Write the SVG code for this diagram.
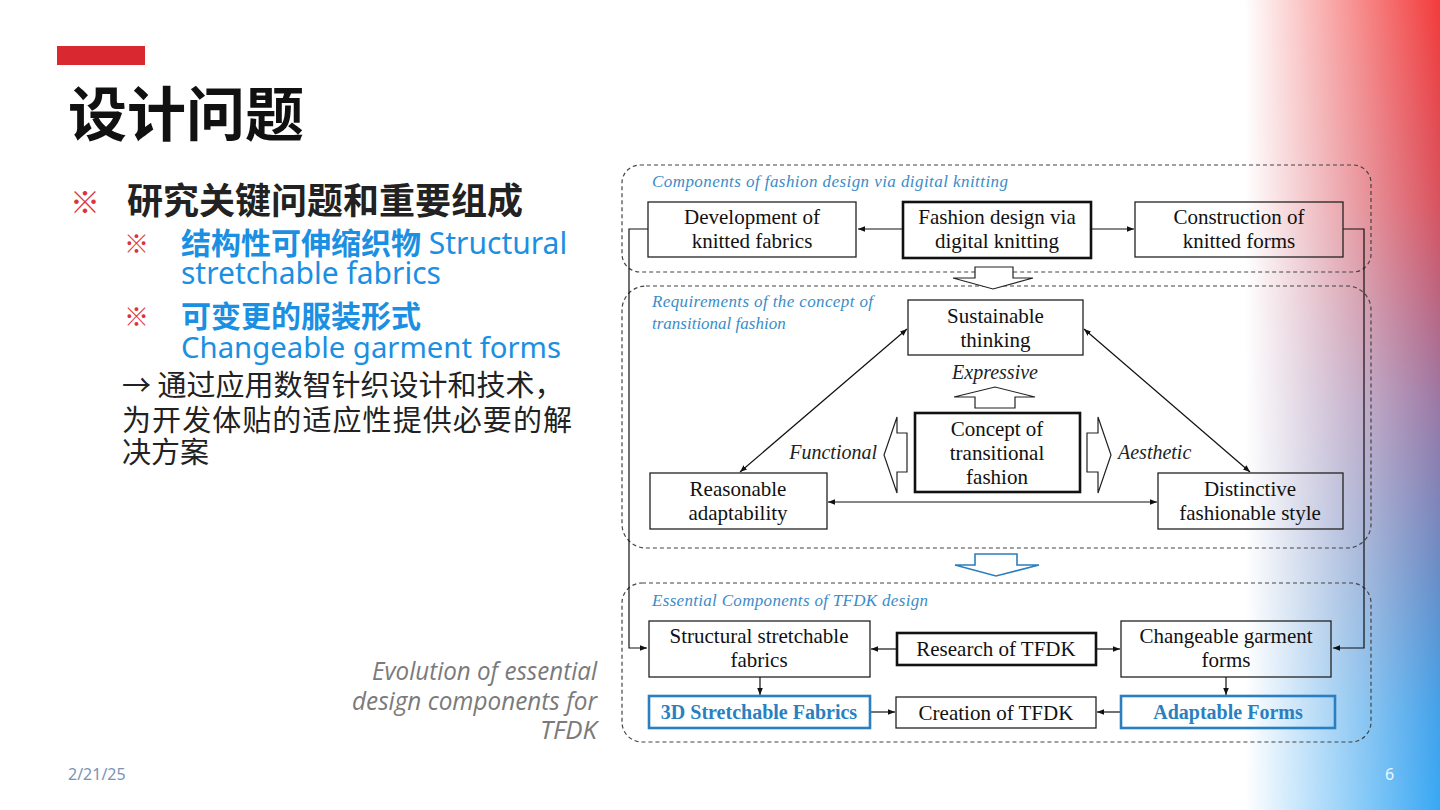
<svg xmlns="http://www.w3.org/2000/svg" width="1440" height="810" viewBox="0 0 1440 810">
<defs>
<linearGradient id="vert" x1="0" y1="0" x2="0" y2="1">
<stop offset="0" stop-color="#f33b3b"/>
<stop offset="0.25" stop-color="#d9525e"/>
<stop offset="0.5" stop-color="#9a78a6"/>
<stop offset="0.7" stop-color="#6a8cc6"/>
<stop offset="0.88" stop-color="#42a2ea"/>
<stop offset="1" stop-color="#38a8f4"/>
</linearGradient>
<linearGradient id="fade" x1="1245" y1="0" x2="1440" y2="0" gradientUnits="userSpaceOnUse">
<stop offset="0" stop-color="#ffffff" stop-opacity="1"/>
<stop offset="1" stop-color="#ffffff" stop-opacity="0"/>
</linearGradient>
<marker id="ah" viewBox="0 0 10 10" refX="10" refY="5" markerWidth="7" markerHeight="7" orient="auto-start-reverse" markerUnits="userSpaceOnUse">
<path d="M0,1 L10,5 L0,9 z" fill="#111"/>
</marker>
<style>
.cjk{font-family:"Noto Sans CJK SC","Noto Sans",sans-serif}
.lat{font-family:"Noto Sans","Noto Sans CJK SC",sans-serif}
.n{font-family:"Liberation Serif",serif;font-size:21px;fill:#111;text-anchor:middle}
.it{font-family:"Liberation Serif",serif;font-style:italic;font-size:20px;fill:#222}
.lbl{font-family:"Liberation Serif",serif;font-style:italic;font-size:17px;fill:#3a8cc8}
.box{fill:none;stroke:#222;stroke-width:1.3}
.bold{fill:none;stroke:#111;stroke-width:2.6}
.blue{fill:none;stroke:#2a7fc0;stroke-width:2.6}
.bt{font-family:"Liberation Serif",serif;font-weight:bold;font-size:20px;fill:#2a7fc0;text-anchor:middle}
.grp{fill:none;stroke:#444;stroke-width:1.2;stroke-dasharray:4 3}
.ln{fill:none;stroke:#111;stroke-width:1.2}
.hol{fill:#fff;stroke:#222;stroke-width:1.2}
</style>
</defs>
<rect x="0" y="0" width="1440" height="810" fill="#ffffff"/>
<g id="bg-gradient">
<rect x="1180" y="0" width="260" height="810" fill="url(#vert)"/>
<rect x="1180" y="0" width="260" height="810" fill="url(#fade)"/>
<rect x="1180" y="0" width="65" height="810" fill="#ffffff"/>
</g>
<g id="header">
<rect x="57" y="46" width="88" height="19" fill="#d9282f"/>
<text x="68" y="136" class="cjk" font-size="59" font-weight="700" fill="#111">设计问题</text>
</g>
<g id="bullets">
<text x="70" y="213" class="cjk" font-size="30" fill="#e0323a">※</text>
<text x="127" y="214" class="cjk" font-size="36" font-weight="700" fill="#222" textLength="396" lengthAdjust="spacing">研究关键问题和重要组成</text>
<text x="124" y="253" class="cjk" font-size="25" fill="#e0323a">※</text>
<text x="181" y="254" font-size="30" fill="#1b8fe2"><tspan class="cjk" font-weight="700">结构性可伸缩织物</tspan><tspan class="lat"> Structural</tspan></text>
<text x="181" y="284" class="lat" font-size="30" fill="#1b8fe2">stretchable fabrics</text>
<text x="124" y="326" class="cjk" font-size="25" fill="#e0323a">※</text>
<text x="181" y="327" class="cjk" font-size="30" font-weight="700" fill="#1b8fe2">可变更的服装形式</text>
<text x="181" y="358" class="lat" font-size="29.5" fill="#1b8fe2" textLength="380" lengthAdjust="spacingAndGlyphs">Changeable garment forms</text>
<text x="122" y="396" class="cjk" font-size="29" fill="#222">→ 通过应用数智针织设计和技术，</text>
<text x="122" y="431" class="cjk" font-size="29" fill="#222" textLength="450" lengthAdjust="spacing">为开发体贴的适应性提供必要的解</text>
<text x="122" y="463" class="cjk" font-size="29" fill="#222">决方案</text>
</g>
<g id="caption" font-family="'Open Sans','Noto Sans',sans-serif" font-style="italic" font-size="25" fill="#7a7a7a" text-anchor="end">
<text x="597" y="680" textLength="225" lengthAdjust="spacingAndGlyphs">Evolution of essential</text>
<text x="597" y="710" textLength="245" lengthAdjust="spacingAndGlyphs">design components for</text>
<text x="597" y="739" textLength="57" lengthAdjust="spacingAndGlyphs">TFDK</text>
</g>
<g id="footer" font-family="'Noto Sans',sans-serif" font-size="16">
<text x="68" y="780" fill="#7b93b3">2/21/25</text>
<text x="1385" y="780" fill="#eef6ff">6</text>
</g>
<g id="groups">
<rect class="grp" x="622" y="165" width="749" height="107" rx="18"/>
<rect class="grp" x="622" y="286" width="749" height="262" rx="24"/>
<rect class="grp" x="622" y="583" width="749" height="159" rx="20"/>
<text class="lbl" x="652" y="187" textLength="356" lengthAdjust="spacing">Components of  fashion design via digital knitting</text>
<text class="lbl" x="652" y="307" textLength="221" lengthAdjust="spacing">Requirements of  the concept of</text>
<text class="lbl" x="652" y="329">transitional fashion</text>
<text class="lbl" x="652" y="606" textLength="276" lengthAdjust="spacing">Essential Components of TFDK design</text>
</g>
<g id="connectors">
<polyline class="ln" points="648,229 629,229 629,648 647,648" marker-end="url(#ah)"/>
<polyline class="ln" points="1343,229 1364,229 1364,648 1333,648" marker-end="url(#ah)"/>
<line class="ln" x1="903" y1="229" x2="858" y2="229" marker-end="url(#ah)"/>
<line class="ln" x1="1091" y1="229" x2="1134" y2="229" marker-end="url(#ah)"/>
<line class="ln" x1="907" y1="329" x2="740" y2="472" marker-start="url(#ah)" marker-end="url(#ah)"/>
<line class="ln" x1="1084" y1="329" x2="1250" y2="472" marker-start="url(#ah)" marker-end="url(#ah)"/>
<line class="ln" x1="828" y1="502" x2="1157" y2="502" marker-start="url(#ah)" marker-end="url(#ah)"/>
<line class="ln" x1="897" y1="649" x2="871" y2="649" marker-end="url(#ah)"/>
<line class="ln" x1="1096" y1="649" x2="1120" y2="649" marker-end="url(#ah)"/>
<line class="ln" x1="760" y1="677" x2="760" y2="695" marker-end="url(#ah)"/>
<line class="ln" x1="1226" y1="677" x2="1226" y2="695" marker-end="url(#ah)"/>
<line class="ln" x1="871" y1="712" x2="895" y2="712" marker-end="url(#ah)"/>
<line class="ln" x1="1120" y1="712" x2="1097" y2="712" marker-end="url(#ah)"/>
<polygon class="hol" points="975,267 1013,267 1013,278 1033,278 993,289 953,278 975,278"/>
<polygon class="hol" points="975,408 1015,408 1015,397 1035,397 995,387 954,397 975,397"/>
<polygon class="hol" points="907,433 907,472 897,472 897,493 884,455 897,417 897,433"/>
<polygon class="hol" points="1087,433 1098,433 1098,417 1111,455 1098,493 1098,472 1087,472"/>
<polygon points="975,554 1017,554 1017,565 1039,565 996,576 955,565 975,565" fill="#fff" stroke="#2a7fc0" stroke-width="1.6"/>
<text class="it" x="995" y="379" text-anchor="middle">Expressive</text>
<text class="it" x="877" y="459" text-anchor="end">Functional</text>
<text class="it" x="1118" y="459">Aesthetic</text>
</g>
<g id="n-dev"><rect class="box" x="648" y="202" width="208" height="55"/><text class="n" x="752" y="224">Development of</text><text class="n" x="752" y="248">knitted fabrics</text></g>
<g id="n-fdk"><rect class="bold" x="903" y="202" width="188" height="56"/><text class="n" x="997" y="224">Fashion design via</text><text class="n" x="997" y="248">digital knitting</text></g>
<g id="n-con"><rect class="box" x="1135" y="202" width="208" height="55"/><text class="n" x="1239" y="224">Construction of</text><text class="n" x="1239" y="248">knitted forms</text></g>
<g id="n-sus"><rect class="box" x="908" y="300" width="175" height="55"/><text class="n" x="995.5" y="323">Sustainable</text><text class="n" x="995.5" y="347">thinking</text></g>
<g id="n-concept"><rect class="bold" x="915" y="413" width="165" height="79"/><text class="n" x="997" y="436">Concept of</text><text class="n" x="997" y="460">transitional</text><text class="n" x="997" y="484">fashion</text></g>
<g id="n-rea"><rect class="box" x="650" y="473" width="177" height="56"/><text class="n" x="738" y="496">Reasonable</text><text class="n" x="738" y="520">adaptability</text></g>
<g id="n-dis"><rect class="box" x="1158" y="473" width="185" height="56"/><text class="n" x="1250" y="496">Distinctive</text><text class="n" x="1250" y="520">fashionable style</text></g>
<g id="n-ssf"><rect class="box" x="649" y="621" width="221" height="56"/><text class="n" x="759" y="643">Structural stretchable</text><text class="n" x="759" y="667">fabrics</text></g>
<g id="n-res"><rect class="bold" x="897" y="633" width="199" height="32"/><text class="n" x="996" y="656">Research of TFDK</text></g>
<g id="n-cgf"><rect class="box" x="1121" y="621" width="210" height="56"/><text class="n" x="1226" y="643">Changeable garment</text><text class="n" x="1226" y="667">forms</text></g>
<g id="n-3d"><rect class="blue" x="649" y="696" width="221" height="32"/><text class="bt" x="759" y="719">3D Stretchable Fabrics</text></g>
<g id="n-cre"><rect class="box" x="896" y="697" width="200" height="31"/><text class="n" x="996" y="720">Creation of TFDK</text></g>
<g id="n-ada"><rect class="blue" x="1121" y="696" width="214" height="32"/><text class="bt" x="1228" y="719">Adaptable Forms</text></g>
</svg>
